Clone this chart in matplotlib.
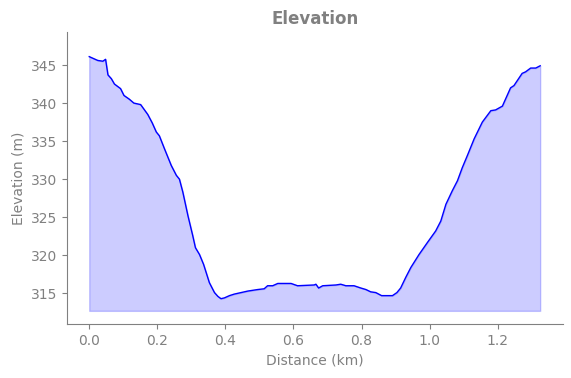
import matplotlib
matplotlib.use('Agg')
import matplotlib.pyplot as plt

# distance (km) and elevation (m)
distance_km = [0.0, 0.025, 0.04, 0.048, 0.055, 0.065, 0.074, 0.092, 0.102, 0.118,
               0.131, 0.151, 0.172, 0.185, 0.197, 0.206, 0.221, 0.241, 0.256, 0.265,
               0.275, 0.290, 0.304, 0.312, 0.324, 0.336, 0.353, 0.368, 0.378, 0.387,
               0.397, 0.412, 0.426, 0.446, 0.466, 0.495, 0.514, 0.524, 0.539, 0.554,
               0.593, 0.612, 0.661, 0.666, 0.674, 0.686, 0.725, 0.739, 0.754, 0.778,
               0.798, 0.813, 0.827, 0.842, 0.859, 0.891, 0.904, 0.915, 0.930, 0.945,
               0.969, 0.994, 1.018, 1.033, 1.048, 1.067, 1.082, 1.096, 1.111, 1.131,
               1.155, 1.180, 1.194, 1.214, 1.228, 1.238, 1.248, 1.272, 1.282, 1.297,
               1.312, 1.325]
elevation_m = [346.1, 345.6, 345.5, 345.75, 343.7, 343.2, 342.5, 341.9, 341.0, 340.5,
               340.0, 339.8, 338.5, 337.4, 336.2, 335.7, 334.0, 331.8, 330.5, 330.0,
               328.3, 325.2, 322.6, 321.0, 320.1, 318.8, 316.4, 315.1, 314.6, 314.3,
               314.4, 314.7, 314.9, 315.1, 315.3, 315.5, 315.6, 316.0, 316.0, 316.3,
               316.3, 316.0, 316.1, 316.2, 315.7, 316.0, 316.1, 316.2, 316.0, 316.0,
               315.7, 315.5, 315.2, 315.1, 314.7, 314.7, 315.1, 315.7, 317.1, 318.4,
               320.1, 321.7, 323.2, 324.5, 326.7, 328.5, 329.8, 331.5, 333.1, 335.3,
               337.5, 339.0, 339.1, 339.6, 341.0, 342.0, 342.3, 343.9, 344.1, 344.6,
               344.6, 344.9]

text_color = 'gray'

fig = plt.figure(figsize=(5.71, 3.78), dpi=100)
ax = fig.add_axes([0.1168, 0.142, 0.8687, 0.7726])

base = min(elevation_m) - 1.6
ax.fill_between(distance_km, elevation_m, base, color='blue', alpha=0.2)
ax.plot(distance_km, elevation_m, color='blue', linewidth=1)

ax.set_ylim(310.93, 349.3)
ax.set_title('Elevation', color=text_color, fontsize=12, fontweight='bold')
ax.set_xlabel('Distance (km)', color=text_color)
ax.set_ylabel('Elevation (m)', color=text_color)

for side in ['top', 'right']:
    ax.spines[side].set_visible(False)
for side in ['left', 'bottom']:
    ax.spines[side].set_color(text_color)
ax.tick_params(colors=text_color)

fig.savefig('out.png', dpi=100)
